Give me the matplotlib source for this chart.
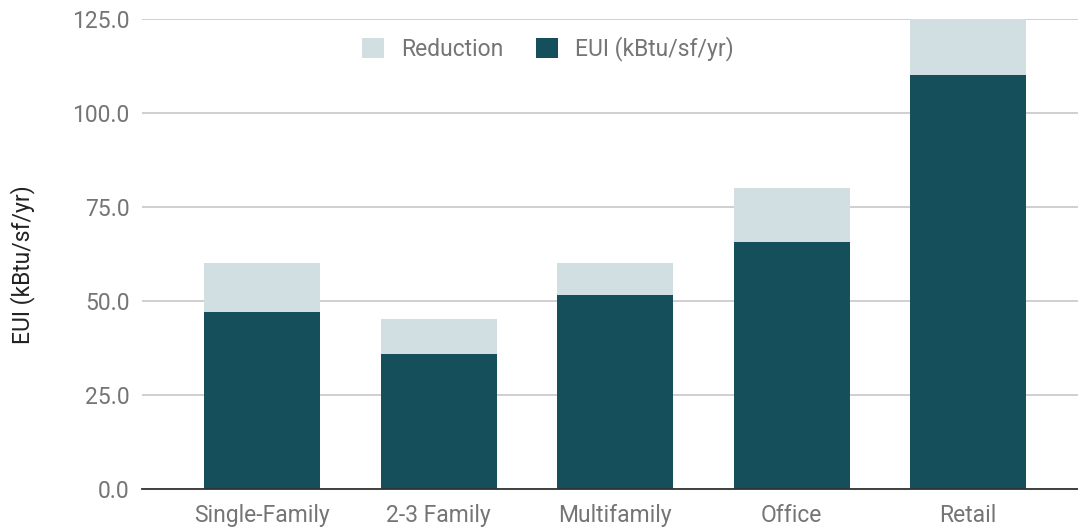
import matplotlib
matplotlib.use("Agg")
import matplotlib.pyplot as plt
from matplotlib.patches import Patch

categories = ["Single-Family", "2-3 Family", "Multifamily", "Office", "Retail"]
eui = [47.0, 35.8, 51.5, 65.5, 110.0]
reduction = [13.0, 9.2, 8.5, 14.5, 15.0]
yticks = [0, 25, 50, 75, 100, 125]

dark = "#164F5C"
light = "#D1DFE3"
tick_color = "#757575"
fs = 16.5

plt.rcParams["font.family"] = ["Roboto", "DejaVu Sans"]

fig = plt.figure(figsize=(10.78, 5.29), dpi=100)
W, H = 1078, 529
ax = fig.add_axes([142 / W, (H - 488.5) / H, (W - 142) / W, (488.5 - 18.7) / H])

x = list(range(len(categories)))
width = 0.657
ax.bar(x, eui, width=width, color=dark, zorder=3)
ax.bar(x, reduction, width=width, bottom=eui, color=light, zorder=3)

ax.set_xlim(-0.68, 4.623)
ax.set_ylim(0, 125)
ax.set_yticks(yticks)
ax.set_yticklabels([f"{v:.1f}" for v in yticks])
ax.set_xticks(x)
ax.set_xticklabels(categories)

ax.grid(axis="y", color="#CCCCCC", linewidth=1.3, zorder=0)
ax.set_axisbelow(True)
for s in ["left", "right", "top"]:
    ax.spines[s].set_visible(False)
ax.spines["bottom"].set_color("#333333")
ax.spines["bottom"].set_linewidth(1.3)
ax.spines["bottom"].set_zorder(4)

ax.tick_params(axis="y", length=0, pad=9, labelsize=fs, labelcolor=tick_color)
ax.tick_params(axis="x", length=0, pad=11, labelsize=fs, labelcolor=tick_color)

fig.text(23 / W, (H - 265) / H, "EUI (kBtu/sf/yr)", rotation=90, ha="center", va="center",
         fontsize=fs, color="#222222")

handles = [Patch(facecolor=light, edgecolor="none", label="Reduction"),
           Patch(facecolor=dark, edgecolor="none", label="EUI (kBtu/sf/yr)")]
leg = ax.legend(handles=handles, loc="center",
                bbox_to_anchor=((548 - 142) / (W - 142), (488.5 - 49) / (488.5 - 18.7)),
                ncol=2, frameon=False, fontsize=fs, handlelength=0.95, handleheight=0.95,
                handletextpad=0.74, columnspacing=1.45, labelcolor=tick_color)

fig.savefig("out.png", dpi=100)
